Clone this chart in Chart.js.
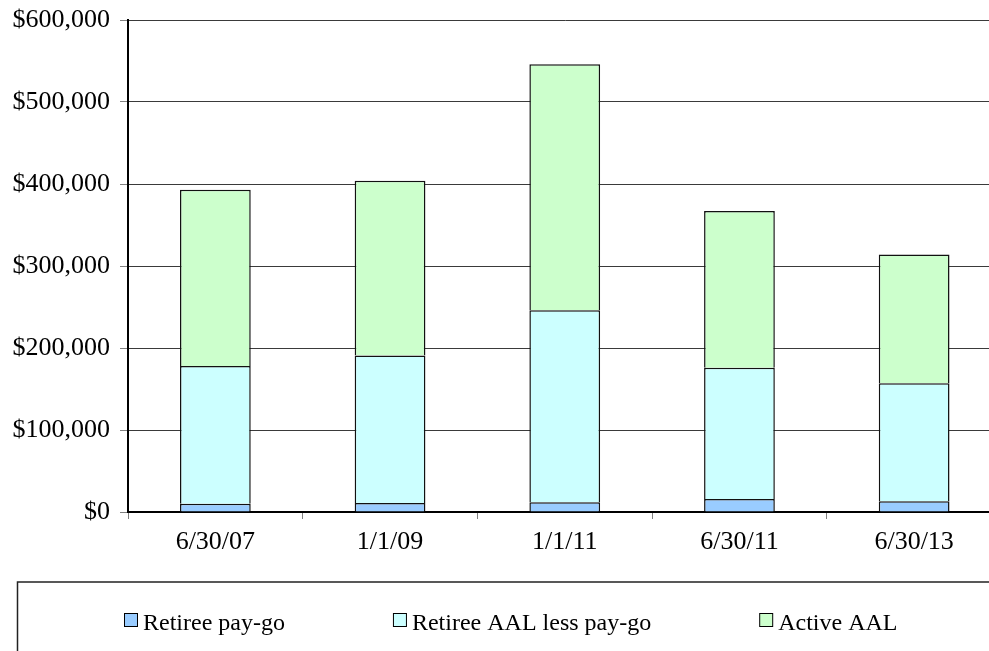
<!DOCTYPE html>
<html>
<head>
<meta charset="utf-8">
<script src="https://cdn.jsdelivr.net/npm/chart.js@4/dist/chart.umd.min.js"></script>
<style>
  html, body { margin: 0; padding: 0; background: #fff; overflow: hidden; }
  #wrap { width: 1010px; height: 651px; }
</style>
</head>
<body>
<div id="wrap"><canvas id="c" width="1010" height="651"></canvas></div>
<script>
// Valuation dates
const categories = ['6/30/07', '1/1/09', '1/1/11', '6/30/11', '6/30/13'];

// Liability components (dollars)
const retireePayGo = [10000, 11000, 12000, 16000, 13000];
const retireeAalLessPayGo = [168000, 180000, 234000, 160000, 144000];
const activeAal = [215000, 213000, 300000, 191000, 157000];

// Y axis tick values
const yTicks = [0, 100000, 200000, 300000, 400000, 500000, 600000];

const seriesNames = ['Retiree pay-go', 'Retiree AAL less pay-go', 'Active AAL'];
const seriesColors = ['#99CCFF', '#CCFFFF', '#CCFFCC'];

const FONT = '"Liberation Serif", "Times New Roman", serif';

// Boxed legend along the bottom, drawn after the chart
const boxLegend = {
  id: 'boxLegend',
  afterDraw(chart) {
    const ctx = chart.ctx;
    ctx.save();
    ctx.strokeStyle = '#222';
    ctx.lineWidth = 1.5;
    ctx.strokeRect(17.5, 582, 1200, 200);
    ctx.font = '24px ' + FONT;
    ctx.textBaseline = 'alphabetic';
    ctx.textAlign = 'left';
    let x = 124;
    chart.data.datasets.forEach(ds => {
      ctx.fillStyle = ds.backgroundColor;
      ctx.fillRect(x + 0.5, 613.5, 13, 13);
      ctx.strokeStyle = '#000';
      ctx.lineWidth = 1;
      ctx.strokeRect(x + 0.5, 613.5, 13, 13);
      ctx.fillStyle = '#000';
      ctx.fillText(ds.label, x + 19, 630);
      x += 19 + ctx.measureText(ds.label).width + 108;
    });
    ctx.restore();
  }
};

const mk = (label, data, color) => ({
  label, data,
  backgroundColor: color,
  borderColor: '#111',
  borderWidth: 1.5,
  borderSkipped: 'start',
  barPercentage: 0.405,
  categoryPercentage: 1.0
});

new Chart(document.getElementById('c'), {
  type: 'bar',
  data: {
    labels: categories,
    datasets: [
      mk(seriesNames[0], retireePayGo, seriesColors[0]),
      mk(seriesNames[1], retireeAalLessPayGo, seriesColors[1]),
      mk(seriesNames[2], activeAal, seriesColors[2])
    ]
  },
  options: {
    responsive: false,
    animation: false,
    layout: { autoPadding: false, padding: { top: 20, right: 8.5, left: 0, bottom: 0 } },
    plugins: {
      legend: { display: false },
      tooltip: { enabled: false }
    },
    scales: {
      x: {
        stacked: true,
        offset: true,
        grid: {
          display: true,
          drawOnChartArea: false,
          drawTicks: true,
          tickLength: 7,
          tickColor: '#808080',
          offset: true
        },
        border: { display: true, color: '#000', width: 2 },
        ticks: {
          color: '#000',
          font: { family: FONT, size: 26 },
          padding: 8,
          maxRotation: 0
        },
        afterFit(s) { s.height = 139; s.paddingLeft = 0; s.paddingRight = 0; }
      },
      y: {
        stacked: true,
        min: 0,
        max: 600000,
        afterBuildTicks(s) { s.ticks = yTicks.map(v => ({ value: v })); },
        grid: {
          color: '#3a3a3a',
          lineWidth: 1,
          drawTicks: true,
          tickLength: 8,
          tickColor: '#808080'
        },
        border: { display: true, color: '#000', width: 2 },
        ticks: {
          color: '#000',
          font: { family: FONT, size: 26 },
          padding: 10,
          callback: v => '$' + Number(v).toLocaleString('en-US')
        },
        afterFit(s) { s.width = 128; s.paddingTop = 0; s.paddingBottom = 0; }
      }
    }
  },
  plugins: [boxLegend]
});
</script>
</body>
</html>
